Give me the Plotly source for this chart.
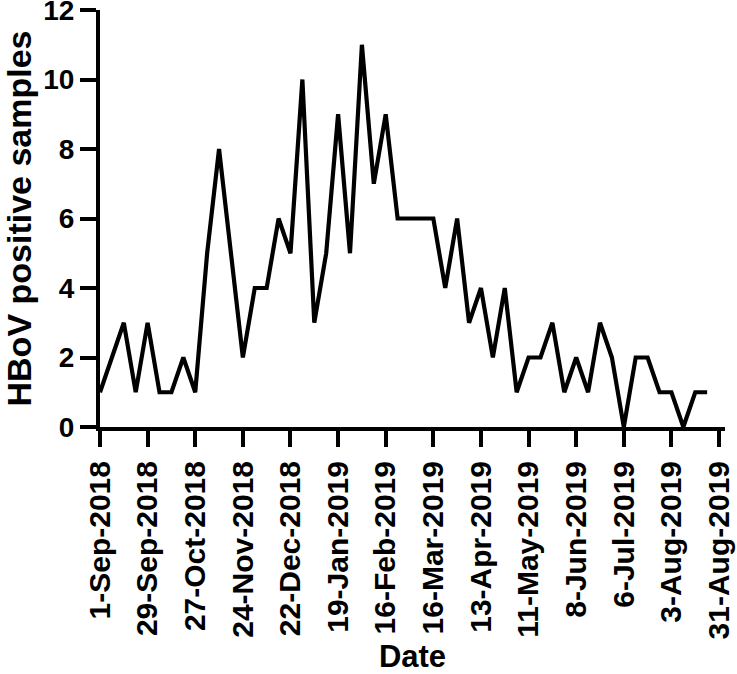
import pandas as pd
import plotly.graph_objects as go

# Weekly HBoV positive sample counts, weeks starting 1-Sep-2018
start_date = "2018-09-01"
positives = [1, 2, 3, 1, 3, 1, 1, 2, 1, 5, 8, 5, 2, 4, 4, 6, 5, 10, 3, 5,
             9, 5, 11, 7, 9, 6, 6, 6, 6, 4, 6, 3, 4, 2, 4, 1, 2, 2, 3, 1,
             2, 1, 3, 2, 0, 2, 2, 1, 1, 0, 1, 1]
weeks = pd.date_range(start_date, periods=len(positives), freq="7D")

tick_dates = ["2018-09-01", "2018-09-29", "2018-10-27", "2018-11-24",
              "2018-12-22", "2019-01-19", "2019-02-16", "2019-03-16",
              "2019-04-13", "2019-05-11", "2019-06-08", "2019-07-06",
              "2019-08-03", "2019-08-31"]
tick_labels = ["1-Sep-2018", "29-Sep-2018", "27-Oct-2018", "24-Nov-2018",
               "22-Dec-2018", "19-Jan-2019", "16-Feb-2019", "16-Mar-2019",
               "13-Apr-2019", "11-May-2019", "8-Jun-2019", "6-Jul-2019",
               "3-Aug-2019", "31-Aug-2019"]
y_ticks = [0, 2, 4, 6, 8, 10, 12]

FONT = "Liberation Sans, Arial, sans-serif"

fig = go.Figure()
fig.add_trace(go.Scatter(
    x=weeks, y=positives, mode="lines",
    line=dict(color="black", width=4.2),
    showlegend=False,
))

fig.update_layout(
    width=737, height=674,
    margin=dict(l=100, r=12, t=10, b=247),
    paper_bgcolor="white", plot_bgcolor="white",
    font=dict(family=FONT, color="black"),
)

fig.update_xaxes(
    range=["2018-09-01", "2019-09-03 12:00"],
    tickvals=tick_dates, ticktext=tick_labels, tickangle=-90,
    ticks="outside", ticklen=16, tickwidth=4, tickcolor="black",
    showline=True, linewidth=4, linecolor="black",
    showgrid=False, zeroline=False, automargin=False,
    ticklabeloverflow="allow", ticklabelstandoff=2,
    tickfont=dict(family=FONT, size=30, weight="bold", color="black"),
    title=dict(text="Date", font=dict(family=FONT, size=31, weight="bold", color="black"),
               standoff=10),
)
fig.update_yaxes(
    range=[0, 12], tickvals=y_ticks,
    ticks="outside", ticklen=16, tickwidth=4, tickcolor="black",
    showline=True, linewidth=4, linecolor="black",
    showgrid=False, zeroline=False, automargin=False,
    ticklabeloverflow="allow",
    tickfont=dict(family=FONT, size=28, weight="bold", color="black"),
    title=dict(text="HBoV positive samples",
               font=dict(family=FONT, size=34, weight="bold", color="black"),
               standoff=14),
)

fig.write_html(
    "out.html",
    config={"displayModeBar": False},
    post_script="document.body.style.margin='0';document.body.style.padding='0';",
)
